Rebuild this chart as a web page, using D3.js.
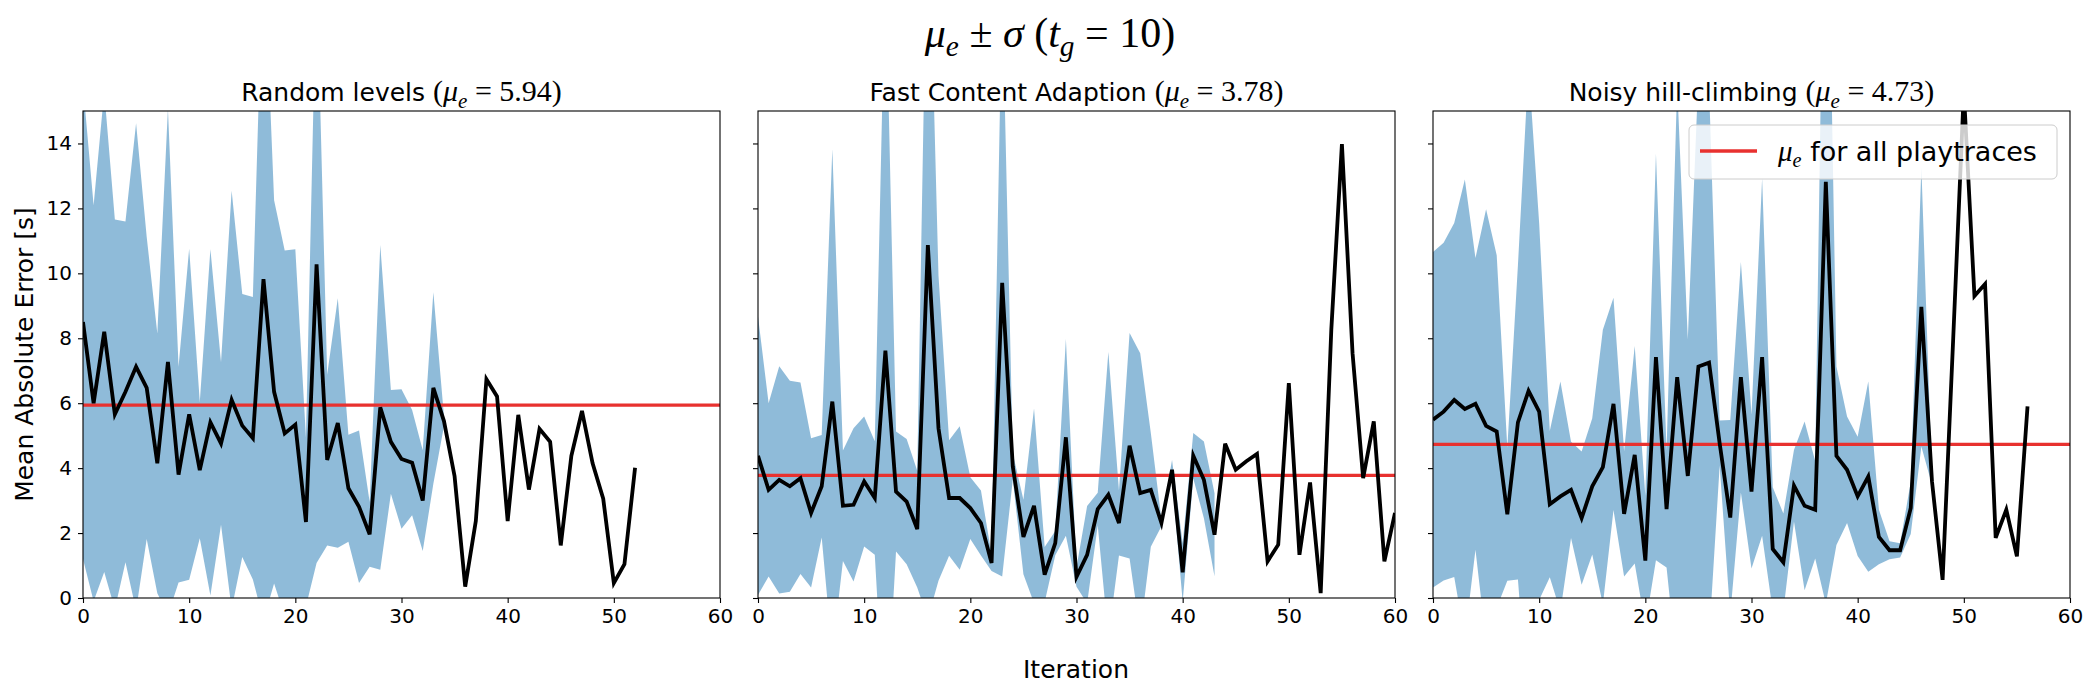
<!DOCTYPE html>
<html>
<head>
<meta charset="utf-8">
<title>Mean absolute error per iteration</title>
<script src="https://d3js.org/d3.v7.min.js"></script>
<style>
  body { margin: 0; background: #fff; }
  text { font-family: "DejaVu Sans", sans-serif; fill: #000; }
  .math { font-family: "Liberation Serif", "DejaVu Serif", serif; }
  .axis text { font-size: 20px; }
  .axis line { stroke: #000; stroke-width: 1.1px; }
  .axis path { display: none; }
</style>
</head>
<body>
<div id="chart"></div>
<script>
// panel titles and overall mean error of each method
const panelTitles = ["Random levels", "Fast Content Adaption", "Noisy hill-climbing"];
const overallMeans = [5.94, 3.78, 4.73];

// mean error per iteration (black line) and its std (blue band)
const meanRandom = [8.5, 6.0, 8.2, 5.66, 6.35, 7.12, 6.47, 4.15, 7.27, 3.8, 5.66, 3.94, 5.41, 4.76, 6.1, 5.31, 4.92, 9.82, 6.35, 5.07,
  5.34, 2.34, 10.28, 4.25, 5.39, 3.38, 2.81, 1.96, 5.87, 4.81, 4.28, 4.17, 3.0, 6.47, 5.45, 3.75, 0.35, 2.37, 6.74, 6.21,
  2.37, 5.64, 3.34, 5.21, 4.81, 1.62, 4.38, 5.76, 4.15, 3.06, 0.46, 1.04, 4.01];
const stdRandom = [7.3, 6.1, 7.4, 6.0, 5.25, 7.5, 4.65, 4.0, 7.8, 3.32, 5.1, 2.1, 5.33, 2.5, 6.44, 4.05, 4.35, 10.5, 5.9, 5.63,
  5.4, 2.6, 9.2, 2.63, 3.84, 1.65, 2.35, 1.0, 5.0, 1.6, 2.15, 1.62, 1.55, 2.95, 0.15, null, null, null, null, null,
  null, null, null, null, null, null, null, null, null, null, null, null, null];

const meanFast = [4.38, 3.33, 3.64, 3.44, 3.69, 2.62, 3.44, 6.05, 2.84, 2.87, 3.59, 3.08, 7.62, 3.28, 2.97, 2.12, 10.87, 5.23, 3.08, 3.08,
  2.77, 2.31, 1.08, 9.71, 4.05, 1.88, 2.84, 0.72, 1.69, 4.95, 0.65, 1.33, 2.74, 3.18, 2.31, 4.69, 3.23, 3.33, 2.31, 3.95,
  0.79, 4.38, 3.64, 1.95, 4.75, 3.95, 4.21, 4.44, 1.13, 1.64, 6.62, 1.33, 3.56, 0.15, 8.26, 13.98, 7.54, 3.69, 5.44, 1.13, 2.62];
const stdFast = [4.29, 2.67, 3.5, 3.25, 2.95, 2.3, 1.58, 7.77, 1.7, 2.36, 2.0, 1.75, 12.0, 1.85, 1.93, 1.8, 11.5, 4.7, 1.78, 2.21,
  0.95, 1.0, 0.25, 9.05, 0.4, 1.15, 3.0, 0.85, 0.37, 3.03, 0.3, 1.5, 0.5, 4.4, 1.0, 3.47, 4.31, 1.75, 0.1, 0.3,
  0.9, 0.7, 1.18, 1.28, null, null, null, null, null, null, null, null, null, null, null, null, null, null, null, null, null];

const meanNoisy = [5.49, 5.74, 6.1, 5.82, 5.98, 5.3, 5.13, 2.58, 5.41, 6.38, 5.74, 2.89, 3.13, 3.33, 2.46, 3.44, 4.03, 5.98, 2.59, 4.41,
  1.15, 7.42, 2.74, 6.8, 3.76, 7.13, 7.25, 4.77, 2.48, 6.8, 3.28, 7.42, 1.51, 1.1, 3.46, 2.84, 2.72, 12.82, 4.38, 3.95,
  3.13, 3.74, 1.88, 1.47, 1.47, 2.77, 8.97, 3.59, 0.56, 8.0, 15.6, 9.3, 9.67, 1.85, 2.72, 1.28, 5.9];
const stdNoisy = [5.17, 5.2, 5.45, 7.07, 4.49, 6.67, 5.43, 2.05, 4.84, 10.0, 5.8, 2.25, 3.54, 1.48, 2.05, 2.1, 4.23, 3.27, 1.93, 3.35,
  2.0, 6.26, 1.8, 9.0, 4.2, 9.0, 8.5, 0.7, 3.0, 3.55, 2.37, 5.5, 1.9, 1.5, 1.1, 2.6, 1.5, 13.0, 2.75, 1.64,
  1.84, 2.93, 0.84, 0.28, 0.22, 0.8, 4.3, 0.1, null, null, null, null, null, null, null, null, null];

const xTicks = [0, 10, 20, 30, 40, 50, 60];
const yTicks = [0, 2, 4, 6, 8, 10, 12, 14];

const panels = [
  { mean: meanRandom, std: stdRandom },
  { mean: meanFast, std: stdFast },
  { mean: meanNoisy, std: stdNoisy }
];

const W = 2100, H = 700;
const panelLeft = [83, 758, 1433];
const panelW = 637, plotTop = 111, plotBottom = 598;
const redColor = "#e8312f";

const svg = d3.select("#chart").append("svg")
  .attr("width", W)
  .attr("height", H);
svg.append("rect").attr("width", W).attr("height", H).attr("fill", "#fff");

const y = d3.scaleLinear().domain([0, 15]).range([plotBottom, plotTop]);

// little helper for "mu_e" style math runs
function addMu(t, sub, size) {
  t.append("tspan").attr("class", "math").attr("font-style", "italic").attr("font-size", size).text("μ");
  t.append("tspan").attr("class", "math").attr("font-style", "italic")
    .attr("font-size", size * 0.7).attr("dy", size * 0.22).text(sub);
}

panels.forEach(function(p, k) {
  const x0 = panelLeft[k];
  const x = d3.scaleLinear().domain([0, 60]).range([x0, x0 + panelW]);
  const g = svg.append("g");

  const clipId = "clip" + k;
  svg.append("clipPath").attr("id", clipId)
    .append("rect").attr("x", x0).attr("y", plotTop).attr("width", panelW).attr("height", plotBottom - plotTop);

  const rows = p.mean.map((m, i) => ({ i: i, m: m, s: p.std[i] }));
  const plot = g.append("g").attr("clip-path", "url(#" + clipId + ")");

  // std band
  plot.append("path")
    .datum(rows)
    .attr("fill", "#1f77b4")
    .attr("fill-opacity", 0.5)
    .attr("d", d3.area()
      .defined(d => d.s != null)
      .x(d => x(d.i))
      .y0(d => y(d.m - d.s))
      .y1(d => y(d.m + d.s)));

  // mean over all playtraces
  plot.append("line")
    .attr("x1", x(0)).attr("x2", x(60))
    .attr("y1", y(overallMeans[k])).attr("y2", y(overallMeans[k]))
    .attr("stroke", redColor).attr("stroke-width", 3.3);

  // mean per iteration
  plot.append("path")
    .datum(rows)
    .attr("fill", "none")
    .attr("stroke", "#000")
    .attr("stroke-width", 3.8)
    .attr("stroke-linejoin", "miter")
    .attr("d", d3.line().x(d => x(d.i)).y(d => y(d.m)));

  // axes
  g.append("g").attr("class", "axis")
    .attr("transform", "translate(0," + plotBottom + ")")
    .call(d3.axisBottom(x).tickValues(xTicks).tickSize(5).tickPadding(6));
  const ya = d3.axisLeft(y).tickValues(yTicks).tickSize(5).tickPadding(6);
  if (k > 0) ya.tickFormat("");
  g.append("g").attr("class", "axis")
    .attr("transform", "translate(" + x0 + ",0)")
    .call(ya);

  g.append("rect")
    .attr("x", x0).attr("y", plotTop).attr("width", panelW).attr("height", plotBottom - plotTop)
    .attr("fill", "none").attr("stroke", "#000").attr("stroke-width", 1.1);

  // panel title: plain text then a serif math part
  const t = g.append("text")
    .attr("x", x0 + panelW / 2).attr("y", 101)
    .attr("text-anchor", "middle")
    .attr("font-size", 25);
  t.append("tspan").text(panelTitles[k] + " ");
  t.append("tspan").attr("class", "math").attr("font-size", 30).text("(");
  addMu(t, "e", 30);
  t.append("tspan").attr("class", "math").attr("font-size", 30).attr("dy", -30 * 0.22)
    .text(" = " + overallMeans[k].toFixed(2) + ")");
});

// legend in the last panel
const leg = svg.append("g");
leg.append("rect")
  .attr("x", 1689).attr("y", 125).attr("width", 368).attr("height", 54).attr("rx", 5)
  .attr("fill", "#fff").attr("fill-opacity", 0.8)
  .attr("stroke", "#cccccc").attr("stroke-width", 1);
leg.append("line")
  .attr("x1", 1700).attr("x2", 1757).attr("y1", 151).attr("y2", 151)
  .attr("stroke", redColor).attr("stroke-width", 3.3);
const lt = leg.append("text").attr("x", 1778).attr("y", 161).attr("font-size", 27);
addMu(lt, "e", 29);
lt.append("tspan").attr("dy", -29 * 0.22).text(" for all playtraces");

// figure title
const ts = 42;
const title = svg.append("text")
  .attr("x", 1050).attr("y", 47)
  .attr("text-anchor", "middle")
  .attr("font-size", ts);
addMu(title, "e", ts);
title.append("tspan").attr("class", "math").attr("dy", -ts * 0.22).text(" ± ");
title.append("tspan").attr("class", "math").attr("font-style", "italic").text("σ");
title.append("tspan").attr("class", "math").text(" (");
title.append("tspan").attr("class", "math").attr("font-style", "italic").text("t");
title.append("tspan").attr("class", "math").attr("font-style", "italic")
  .attr("font-size", ts * 0.7).attr("dy", ts * 0.22).text("g");
title.append("tspan").attr("class", "math").attr("dy", -ts * 0.22).text(" = 10)");

// shared axis labels
svg.append("text")
  .attr("x", 1076).attr("y", 678)
  .attr("text-anchor", "middle")
  .attr("font-size", 25)
  .text("Iteration");
svg.append("text")
  .attr("transform", "translate(33," + ((plotTop + plotBottom) / 2) + ") rotate(-90)")
  .attr("text-anchor", "middle")
  .attr("font-size", 25)
  .text("Mean Absolute Error [s]");
</script>
</body>
</html>
